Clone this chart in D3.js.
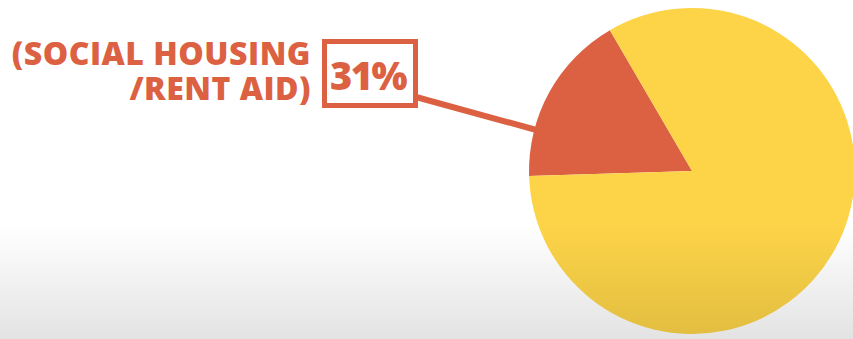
<!DOCTYPE html>
<html>
<head>
<meta charset="utf-8">
<script src="https://cdn.jsdelivr.net/npm/d3@7"></script>
<style>
  html, body { margin: 0; padding: 0; background: #fff; }
  svg { display: block; }
</style>
</head>
<body>
<svg id="chart"></svg>
<script>
// slice shares as drawn (degrees of the circle)
const categories = ["Social housing / rent aid", "Other"];
const shares = [17.1, 82.9];
const colors = ["#dc6142", "#fdd448"];
const labelLines = ["(SOCIAL HOUSING", "/RENT AID)"];
const labelValue = "31%";

const width = 853, height = 339;
const svg = d3.select("#chart").attr("width", width).attr("height", height);

const cx = 692, cy = 171, radius = 163;
const startDeg = 268.2;

const defs = svg.append("defs");
const shade = defs.append("linearGradient")
  .attr("id", "shade")
  .attr("x1", 0).attr("y1", 0).attr("x2", 0).attr("y2", 1);
shade.append("stop").attr("offset", "0%").attr("stop-color", "#000").attr("stop-opacity", 0);
shade.append("stop").attr("offset", "100%").attr("stop-color", "#000").attr("stop-opacity", 0.11);

const pie = d3.pie()
  .value(d => d)
  .sort(null)
  .startAngle(startDeg * Math.PI / 180)
  .endAngle(startDeg * Math.PI / 180 + 2 * Math.PI);

const arc = d3.arc().innerRadius(0).outerRadius(radius);

const root = svg.append("g").attr("transform", `translate(${cx},${cy})`);
root.selectAll("path")
  .data(pie(shares))
  .join("path")
  .attr("d", arc)
  .attr("fill", (d, i) => colors[i]);

// leader line from the box to the slice
const annot = svg.append("g");
annot.append("line")
  .attr("x1", 416).attr("y1", 97)
  .attr("x2", 540).attr("y2", 131)
  .attr("stroke", colors[0])
  .attr("stroke-width", 6);

annot.append("rect")
  .attr("x", 324.5).attr("y", 41.5)
  .attr("width", 91).attr("height", 64)
  .attr("fill", "#fff")
  .attr("stroke", colors[0])
  .attr("stroke-width", 5);

annot.append("text")
  .attr("x", 368).attr("y", 90)
  .attr("text-anchor", "middle")
  .attr("font-family", "'Open Sans', sans-serif")
  .attr("font-weight", 800)
  .attr("font-size", 38)
  .attr("fill", colors[0])
  .attr("letter-spacing", -1.5)
  .text(labelValue);

// two-line label as one text block
const lbl = annot.append("text")
  .attr("text-anchor", "end")
  .attr("font-family", "'Open Sans', sans-serif")
  .attr("font-weight", 800)
  .attr("font-size", 32)
  .attr("fill", colors[0])
  .attr("letter-spacing", 0.5);

lbl.selectAll("tspan")
  .data(labelLines)
  .join("tspan")
  .attr("x", 311)
  .attr("y", (d, i) => 65 + i * 35)
  .text(d => d);

// soft darkening toward the bottom of the frame
svg.append("rect")
  .attr("x", 0).attr("y", 225)
  .attr("width", width).attr("height", height - 225)
  .attr("fill", "url(#shade)");
</script>
</body>
</html>
